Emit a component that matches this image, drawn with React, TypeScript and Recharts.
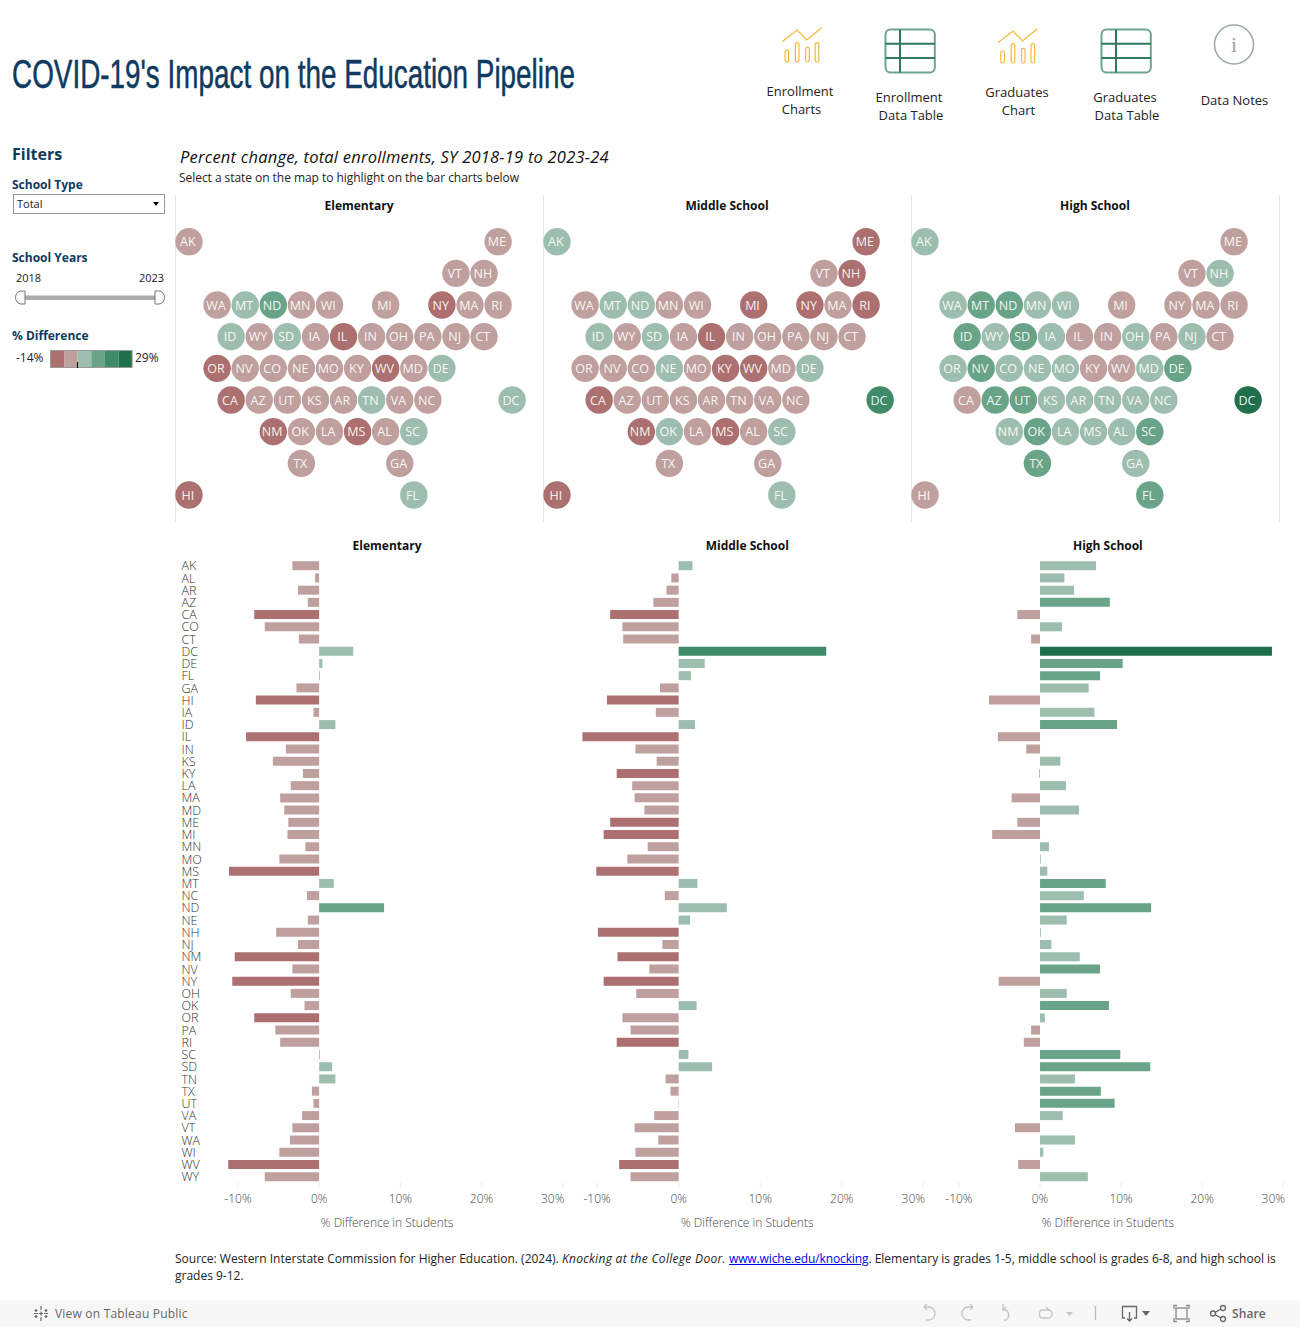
import React from 'react'
import { BarChart, Bar, Cell, XAxis, YAxis, ScatterChart, Scatter } from 'recharts'

const FONT = '"Open Sans", sans-serif'
const NAVY = '#0e3a5f'

const stateCodes = ['AK', 'AL', 'AR', 'AZ', 'CA', 'CO', 'CT', 'DC', 'DE', 'FL', 'GA', 'HI', 'IA', 'ID', 'IL', 'IN', 'KS', 'KY', 'LA', 'MA', 'MD', 'ME', 'MI', 'MN', 'MO', 'MS', 'MT', 'NC', 'ND', 'NE', 'NH', 'NJ', 'NM', 'NV', 'NY', 'OH', 'OK', 'OR', 'PA', 'RI', 'SC', 'SD', 'TN', 'TX', 'UT', 'VA', 'VT', 'WA', 'WI', 'WV', 'WY']

const elementaryValues = [-3.3, -0.5, -2.6, -1.4, -8.0, -6.7, -2.5, 4.2, 0.4, 0.1, -2.8, -7.8, -0.7, 2.0, -9.0, -4.1, -5.7, -2.0, -3.5, -4.8, -4.3, -3.8, -3.9, -1.7, -4.9, -11.1, 1.8, -1.5, 8.0, -1.4, -5.3, -2.6, -10.4, -3.3, -10.7, -3.5, -1.8, -8.0, -5.4, -4.8, 0.1, 1.6, 2.0, -0.9, -0.7, -2.1, -3.3, -3.6, -4.9, -11.2, -6.7]
const middleValues = [1.7, -0.9, -1.5, -3.1, -8.4, -6.9, -6.8, 18.1, 3.2, 1.5, -2.3, -8.8, -2.8, 2.0, -11.8, -5.3, -2.7, -7.6, -5.7, -5.4, -4.2, -8.4, -9.2, -3.8, -6.3, -10.1, 2.3, -1.7, 5.9, 1.4, -9.9, -2.0, -7.5, -3.6, -9.2, -5.2, 2.2, -6.9, -5.9, -7.6, 1.2, 4.1, -1.6, -1.0, -0.05, -3.0, -5.4, -2.5, -5.3, -7.3, -5.9]
const highValues = [6.9, 3.0, 4.2, 8.6, -2.8, 2.7, -1.1, 28.6, 10.2, 7.4, 6.0, -6.3, 6.7, 9.5, -5.2, -1.7, 2.5, -0.1, 3.2, -3.5, 4.8, -2.8, -5.9, 1.1, 0.1, 0.9, 8.1, 5.4, 13.7, 3.3, 0.1, 1.4, 4.9, 7.4, -5.1, 3.3, 8.5, 0.6, -1.1, -2.0, 9.9, 13.6, 4.3, 7.5, 9.2, 2.8, -3.1, 4.3, 0.4, -2.7, 5.9]

// tile map grid, same order as stateCodes (columns are half steps)
const tileCols = [0, 14, 11, 5, 3, 6, 21, 23, 18, 16, 15, 0, 9, 3, 11, 13, 9, 12, 10, 20, 16, 22, 14, 8, 10, 12, 4, 17, 6, 8, 21, 19, 6, 4, 18, 15, 8, 2, 17, 22, 16, 7, 13, 8, 7, 15, 19, 2, 10, 14, 5]
const tileRows = [0, 6, 5, 5, 5, 4, 3, 5, 4, 8, 7, 8, 3, 3, 3, 3, 5, 4, 6, 2, 4, 0, 2, 2, 4, 6, 2, 5, 2, 4, 1, 3, 6, 4, 2, 3, 6, 4, 3, 2, 6, 3, 5, 7, 5, 5, 1, 2, 2, 4, 3]

const xTicks = [-10, 0, 10, 20, 30]
const legendColors = ['#ab706f', '#c0a09e', '#9dbeae', '#69a489', '#3f8a68', '#1f6f4d']

const valueColor = (value: number) => {
  if (value < -7) return legendColors[0]
  if (value < 0) return legendColors[1]
  if (value < 7) return legendColors[2]
  if (value < 14) return legendColors[3]
  if (value < 21) return legendColors[4]
  return legendColors[5]
}

const Txt = ({ x, y, size = 12, weight = 400, color = '#222', italic = false, anchor = 'left', spacing = 0, children }: any) => (
  <div style={{
    position: 'absolute', top: y - 12, height: 24, lineHeight: '24px', whiteSpace: 'nowrap',
    left: anchor === 'left' ? x : x - 200, width: anchor === 'left' ? undefined : 400,
    textAlign: anchor === 'left' ? 'left' : 'center', letterSpacing: spacing,
    fontFamily: FONT, fontSize: size, fontWeight: weight, color, fontStyle: italic ? 'italic' : 'normal',
  }}>{children}</div>
)

const renderTile = (props: any) => {
  const { cx, cy, payload } = props
  return (
    <g>
      <circle cx={cx} cy={cy} r={13.7} fill={valueColor(payload.value)} />
      <text x={cx - 1.2} y={cy + 4.5} textAnchor="middle" fontFamily={FONT} fontSize={12.5} fill="#fff" fillOpacity={0.92}>{payload.state}</text>
    </g>
  )
}

const TileMap = ({ title, values, left }: { title: string, values: number[], left: number }) => {
  const data = stateCodes.map((state, i) => ({ state, col: tileCols[i], row: tileRows[i], value: values[i] }))
  return (
    <div style={{ position: 'absolute', left, top: 190, width: 368, height: 333 }}>
      <ScatterChart width={368} height={333} margin={{ top: 51.7, right: 2.75, bottom: 28, left: 14 }}>
        <XAxis type="number" dataKey="col" domain={[0, 25]} hide />
        <YAxis type="number" dataKey="row" domain={[0, 8]} reversed hide />
        <Scatter data={data} isAnimationActive={false} shape={renderTile} />
      </ScatterChart>
      <Txt x={184} y={15.5} weight={700} color="#111" anchor="center">{title}</Txt>
    </div>
  )
}

const StateTick = ({ x, y, payload }: any) => (
  <text x={x - 16} y={y + 5} textAnchor="start" fontFamily={FONT} fontWeight={300} fontSize={12.5} fill="#333">{payload.value}</text>
)

const ValueTick = ({ x, y, payload }: any) => (
  <text x={payload.value === 30 ? x - 10 : x} y={y + 14} textAnchor="middle" fontFamily={FONT} fontWeight={300} fontSize={12} fill="#444">{`${payload.value}%`}</text>
)

const BarPanel = ({ title, values, plotLeft, plotWidth, showStates }: { title: string, values: number[], plotLeft: number, plotWidth: number, showStates?: boolean }) => {
  const data = stateCodes.map((state, i) => ({ state, value: values[i] }))
  const gutter = 35.5
  const center = plotLeft + plotWidth / 2 + 3 - (plotLeft - gutter)
  return (
    <div style={{ position: 'absolute', left: plotLeft - gutter, top: 550, width: plotWidth + gutter + 20, height: 690 }}>
      <BarChart
        layout="vertical"
        width={plotWidth + gutter + 20}
        height={690}
        data={data}
        barCategoryGap={0}
        margin={{ top: 9.2, right: 20, bottom: 0, left: showStates ? 0 : gutter }}
      >
        <XAxis
          type="number"
          domain={[-14, 30]}
          ticks={xTicks}
          height={57.6}
          axisLine={false}
          tickLine={{ stroke: '#ececec' }}
          tickSize={5}
          tick={<ValueTick />}
          interval={0}
        />
        <YAxis
          type="category"
          dataKey="state"
          width={gutter}
          hide={!showStates}
          axisLine={false}
          tickLine={false}
          interval={0}
          tick={<StateTick />}
        />
        <Bar dataKey="value" barSize={9} isAnimationActive={false}>
          {data.map((d) => <Cell key={d.state} fill={valueColor(d.value)} />)}
        </Bar>
      </BarChart>
      <Txt x={center} y={-4} weight={700} color="#111" anchor="center">{title}</Txt>
      <Txt x={center} y={673} weight={300} color="#444" anchor="center">% Difference in Students</Txt>
    </div>
  )
}

const ChartIcon = ({ dx, dy }: { dx: number, dy: number }) => (
  <g transform={`translate(${dx} ${dy})`} fill="none" stroke="#f5b83d" strokeWidth={1.2}>
    <polyline points="782,41.7 797.2,30 806.7,40 821.6,27.7" />
    <rect x={785} y={50} width={3.6} height={12} rx={1.8} />
    <rect x={795.4} y={42.7} width={3.6} height={19.3} rx={1.8} />
    <rect x={805.7} y={47.3} width={3.6} height={14.7} rx={1.8} />
    <rect x={815.2} y={42.7} width={3.6} height={19.3} rx={1.8} />
  </g>
)

const TableIcon = ({ dx }: { dx: number }) => (
  <g transform={`translate(${dx} 0)`} fill="none">
    <rect x={885.5} y={29.5} width={49.3} height={43} rx={5} stroke="#6ba58b" strokeWidth={2} />
    <path d="M900 29.5V72.5M885.5 43.7H934.8M885.5 58H934.8" stroke="#2f7a5b" strokeWidth={2} />
  </g>
)

const Header = () => (
  <svg width={1300} height={130} style={{ position: 'absolute', left: 0, top: 0 }}>
    <text x={12} y={88} fontFamily='"Liberation Sans Narrow", "Liberation Sans", sans-serif' fontSize={40} fill={NAVY} stroke={NAVY} strokeWidth={0.5} textLength={563} lengthAdjust="spacingAndGlyphs">COVID-19's Impact on the Education Pipeline</text>
    <ChartIcon dx={0} dy={0} />
    <ChartIcon dx={215.8} dy={1} />
    <TableIcon dx={0} />
    <TableIcon dx={216} />
    <circle cx={1234} cy={44.5} r={19.5} fill="none" stroke="#9aa8a6" strokeWidth={1.5} />
    <text x={1234} y={52} textAnchor="middle" fontFamily="Liberation Serif, serif" fontSize={22} fill="#9aa8a6">i</text>
  </svg>
)

const Sidebar = () => (
  <>
    <Txt x={12} y={154} size={16} weight={700} color={NAVY}>Filters</Txt>
    <Txt x={12} y={185} size={12} weight={700} color={NAVY}>School Type</Txt>
    <div style={{ position: 'absolute', left: 13, top: 194, width: 150, height: 18, border: '1px solid #999' }} />
    <Txt x={17} y={204} size={11}>Total</Txt>
    <svg width={170} height={220} style={{ position: 'absolute', left: 0, top: 190 }}>
      <polygon points="153,12 159,12 156,16" fill="#000" />
      <rect x={20} y={105.5} width={140} height={4.5} fill="#aaa" />
      <path d="M25 101H21a5.5 6.5 0 0 0 -5.5 6.5a5.5 6.5 0 0 0 5.5 6.5H25Z" fill="#fff" stroke="#777" />
      <path d="M155 101H159a5.5 6.5 0 0 1 5.5 6.5a5.5 6.5 0 0 1 -5.5 6.5H155Z" fill="#fff" stroke="#777" />
      {legendColors.map((c, i) => <rect key={c} x={50.5 + i * 13.6} y={160.5} width={13.6} height={17} fill={c} />)}
      <rect x={50.5} y={160.5} width={81.6} height={17} fill="none" stroke="#999" />
      <line x1={77.5} x2={77.5} y1={172} y2={178} stroke="#000" />
    </svg>
    <Txt x={12} y={258} size={12} weight={700} color={NAVY}>School Years</Txt>
    <Txt x={16} y={278} size={11}>2018</Txt>
    <Txt x={139} y={278} size={11}>2023</Txt>
    <Txt x={12} y={336} size={12} weight={700} color={NAVY}>% Difference</Txt>
    <Txt x={16} y={358} size={12}>-14%</Txt>
    <Txt x={135} y={358} size={12}>29%</Txt>
  </>
)

const Toolbar = () => (
  <div style={{ position: 'absolute', left: 0, top: 1300, width: 1300, height: 27, background: '#f7f7f7' }}>
    <svg width={1300} height={27} style={{ position: 'absolute', left: 0, top: 0 }}>
      <g stroke="#666" fill="none" strokeWidth={1.2}>
        <path d="M41 6v4M41 17v4M34 13.5h4M44 13.5h4M36 9v3M34.5 10.5h3M46 9v3M44.5 10.5h3M36 15v3M34.5 16.5h3M46 15v3M44.5 16.5h3M39 13.5h4M41 11.5v4" />
      </g>
      <g stroke="#c4c4c4" fill="none" strokeWidth={1.3}>
        <path d="M924 7h5a6 6.5 0 0 1 0 13h-3M924 7l3-3M924 7l3 3" />
        <path d="M973 7h-5a6 6.5 0 0 0 0 13h3M973 7l-3-3M973 7l-3 3" />
        <path d="M1003 4v6h3a6 6 0 0 1 0 10h-2M1003 10l3-3" />
        <path d="M1049 10h-8a4 5 0 0 0 0 8h6a4 4 0 0 0 2-8M1049 10l-3-3" />
        <polygon points="1066,12 1073,12 1069.5,16" fill="#c4c4c4" stroke="none" />
        <line x1={1095.5} x2={1095.5} y1={6} y2={20} stroke="#bbb" />
      </g>
      <g stroke="#666" fill="none" strokeWidth={1.3}>
        <path d="M1134 18h2.5V6.5h-14V18h2.5M1129.5 12v9M1127 18.500l2.500 2.500l2.500-2.500" />
        <polygon points="1142,11 1150,11 1146,16" fill="#666" stroke="none" />
        <rect x={1176} y={8} width={11} height={11} stroke="#888" />
        <path d="M1174 9V5.500h3M1186 5.500h3V9M1174 18v3.500h3M1189 18v3.500h-3" stroke="#888" />
        <circle cx={1213} cy={13.500} r={2.500} />
        <circle cx={1223} cy={8} r={2.500} />
        <circle cx={1223} cy={19} r={2.500} />
        <path d="M1215 12.500l6-3.500M1215 14.500l6 3.500" />
      </g>
    </svg>
    <Txt x={55} y={13.5} size={12} color="#666" spacing={0.2}>View on Tableau Public</Txt>
    <Txt x={1232} y={13.5} size={12} weight={600} color="#666" spacing={0.1}>Share</Txt>
  </div>
)

export default function App() {
  return (
    <div style={{ position: 'absolute', left: 0, top: 0, width: 1300, height: 1327, background: '#fff', overflow: 'hidden' }}>
      <Header />
      <Txt x={800} y={90.5} size={13} anchor="center">Enrollment</Txt>
      <Txt x={801.5} y={108.5} size={13} anchor="center">Charts</Txt>
      <Txt x={909} y={96.5} size={13} anchor="center">Enrollment</Txt>
      <Txt x={911} y={114.5} size={13} anchor="center">Data Table</Txt>
      <Txt x={1017} y={91.5} size={13} anchor="center">Graduates</Txt>
      <Txt x={1018.5} y={109.5} size={13} anchor="center">Chart</Txt>
      <Txt x={1125} y={96.5} size={13} anchor="center">Graduates</Txt>
      <Txt x={1127} y={114.5} size={13} anchor="center">Data Table</Txt>
      <Txt x={1234.5} y={99.5} size={13} anchor="center">Data Notes</Txt>

      <Sidebar />
      <Txt x={180} y={157} size={16.5} italic color="#111" spacing={0.22}>Percent change, total enrollments, SY 2018-19 to 2023-24</Txt>
      <Txt x={179} y={178} size={12} spacing={-0.05}>Select a state on the map to highlight on the bar charts below</Txt>

      {[175, 543, 911, 1279].map((x) => (
        <div key={x} style={{ position: 'absolute', left: x, top: 195, width: 1, height: 327, background: '#e6e6e6' }} />
      ))}
      <TileMap title="Elementary" values={elementaryValues} left={175} />
      <TileMap title="Middle School" values={middleValues} left={543} />
      <TileMap title="High School" values={highValues} left={911} />

      <BarPanel title="Elementary" values={elementaryValues} plotLeft={205.5} plotWidth={357.2} showStates />
      <BarPanel title="Middle School" values={middleValues} plotLeft={564.9} plotWidth={358.8} />
      <BarPanel title="High School" values={highValues} plotLeft={926.5} plotWidth={356.8} />

      <div style={{ position: 'absolute', left: 175, top: 1251, width: 1110, fontFamily: FONT, fontSize: 12, lineHeight: '16.500px', color: '#222' }}>
        Source: Western Interstate Commission for Higher Education. (2024). <i style={{ letterSpacing: 0.3 }}>Knocking at the College Door.</i>{' '}
        <a href="#" style={{ color: '#0000ee', letterSpacing: -0.12 }}>www.wiche.edu/knocking</a>. Elementary is grades 1-5, middle school is grades 6-8, and high school is grades 9-12.
      </div>
      <Toolbar />
    </div>
  )
}
